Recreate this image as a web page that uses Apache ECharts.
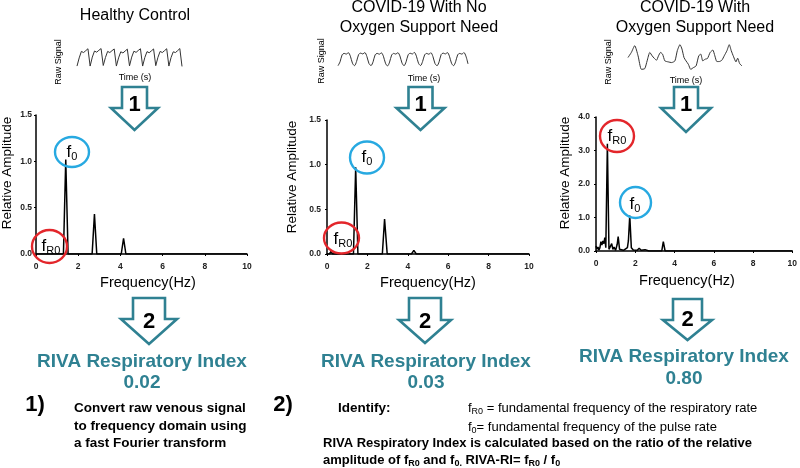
<!DOCTYPE html>
<html><head><meta charset="utf-8">
<script src="https://cdn.jsdelivr.net/npm/echarts@6/dist/echarts.min.js"></script>
<style>html,body{margin:0;padding:0;background:#fff}#c{width:800px;height:468px}</style>
</head><body><div id="c"></div>
<script>
// ---------- DATA ----------
const panelTitles = [['Healthy Control'], ['COVID-19 With No', 'Oxygen Support Need'], ['COVID-19 With', 'Oxygen Support Need']];
const rivaValues = ['0.02', '0.03', '0.80'];
const freqTicks = [0, 2, 4, 6, 8, 10];

// Spectrum: Healthy Control
const hcFreq = [0, 0.15, 0.2, 0.25, 1.3, 1.41, 1.52, 2.66, 2.77, 2.88, 4.04, 4.15, 4.26, 5.44, 5.49, 5.54, 10];
const hcAmp  = [0, 0, 0.02, 0, 0, 1.02, 0, 0, 0.43, 0, 0, 0.17, 0, 0, 0.01, 0, 0];
// Spectrum: COVID-19 no oxygen
const nfFreq = [0, 0.12, 0.2, 0.28, 1.31, 1.42, 1.53, 2.74, 2.85, 2.98, 4.18, 4.3, 4.42, 10];
const nfAmp  = [0, 0, 0.03, 0, 0, 0.97, 0, 0, 0.39, 0, 0, 0.04, 0, 0];
// Spectrum: COVID-19 with oxygen
const osFreq = [0, 0.05, 0.1, 0.15, 0.2, 0.25, 0.3, 0.35, 0.4, 0.45, 0.5, 0.58, 0.66, 0.72, 0.8, 0.86, 0.92, 1.0, 1.08, 1.13, 1.2, 1.3, 1.4, 1.5, 1.6, 1.65, 1.72, 1.8, 1.9, 2.0, 2.1, 2.2, 2.3, 2.5, 2.7, 3.35, 3.43, 3.52, 10];
const osAmp  = [0.15, 0.05, 0.12, 0.03, 0.1, 0.28, 0.18, 0.3, 0.22, 0.4, 0.1, 3.2, 0.05, 0.0, 0.22, 0.05, 0.12, 0.02, 0.2, 0.43, 0.05, 0.08, 0.02, 0.06, 0.1, 0.3, 1.06, 0.1, 0.03, 0.05, 0.02, 0.08, 0.02, 0.04, 0, 0, 0.28, 0, 0];

// Raw signals (sample index → relative level)
const rawHC = [0.05,0.48,0.82,0.76,0.86,0.96, 0.05,0.52,0.84,0.78,0.88,0.97, 0.08,0.5,0.82,0.76,0.86,0.95, 0.05,0.48,0.8,0.74,0.84,0.94, 0.06,0.52,0.83,0.77,0.87,0.96, 0.05,0.5,0.81,0.75,0.85,0.95, 0.07,0.51,0.82,0.76,0.86,0.96, 0.05,0.5,0.8,0.76,0.86,0.97, 0.03];
const rawNF = [0.02,0.3,0.8,0.9,0.85,0.95,0.7,0.2, 0.02,0.32,0.82,0.92,0.86,0.96,0.68,0.18, 0.03,0.3,0.8,0.9,0.84,0.94,0.7,0.2, 0.0,0.28,0.78,0.9,0.85,0.95,0.72,0.22, 0.02,0.3,0.8,0.91,0.86,0.97,0.7,0.2, 0.03,0.32,0.8,0.9,0.84,0.95,0.68,0.18, 0.02,0.3,0.82,0.92,0.86,0.96,0.7,0.2, 0.02,0.3,0.8,0.9,0.85,0.96,0.7,0.15];
const rawOSx = [25,35,45,55,65,75,82,90,97,103,110,116,122,128,135,145,155,165,172,180,186,192,198,205,212,220,228,236,242,248,255,262,270,278,284,290,297,305,312,320,327,333,340,347,352,358,365];
const rawOSy = [0.40,0.55,0.75,0.45,0.05,0.07,0.30,0.55,0.45,0.38,0.32,0.45,0.55,0.50,0.30,0.27,0.25,0.30,0.60,0.78,0.65,0.40,0.30,0.20,0.05,0.10,0.15,0.45,0.50,0.30,0.35,0.37,0.55,0.62,0.45,0.28,0.28,0.32,0.45,0.60,0.78,0.60,0.42,0.27,0.38,0.22,0.15];

// ---------- STYLE ----------
const FONT = 'Liberation Sans, Arial, Helvetica, sans-serif';
const TEAL = '#2f8192';
const RED = '#e3262b';
const BLUE = '#27a9e1';

const chart = echarts.init(document.getElementById('c'), null, {renderer: 'canvas'});

const specGrids = [
  {left: 36, top: 115, width: 211, height: 139},
  {left: 327, top: 120, width: 202, height: 134},
  {left: 596, top: 117, width: 200, height: 134}
];
const rawGrids = [
  {left: 77, top: 48, width: 105, height: 19},
  {left: 338, top: 52, width: 130, height: 14},
  {left: 628, top: 44, width: 114, height: 27}
];
const yMax = [1.5, 1.5, 4.0];
const yInt = [0.5, 0.5, 1.0];

const grids = [...specGrids, ...rawGrids];
const xAxes = [], yAxes = [], series = [];
const axisText = {fontSize: 8.5, fontWeight: 'bold', color: '#222', fontFamily: FONT};
for (let i = 0; i < 3; i++) {
  xAxes.push({type: 'value', gridIndex: i, min: freqTicks[0], max: freqTicks[freqTicks.length - 1], interval: 2,
    axisLine: {show: true, lineStyle: {color: '#000', width: 1.5}}, axisTick: {show: true, length: 2, lineStyle: {color: '#000'}},
    splitLine: {show: false}, axisLabel: Object.assign({margin: 8}, axisText)});
  yAxes.push({type: 'value', gridIndex: i, min: 0, max: yMax[i], interval: yInt[i],
    axisLine: {show: true, lineStyle: {color: '#000', width: 1.5}}, axisTick: {show: true, length: 2, lineStyle: {color: '#000'}},
    splitLine: {show: false}, axisLabel: Object.assign({margin: i === 0 ? 4 : 6, formatter: v => v.toFixed(1)}, axisText)});
}
const rawX = [[0, rawHC.length - 1], [0, rawNF.length - 1], [25, 365]];
const rawY = [[0, 1], [0, 1], [0, 0.8]];
for (let i = 0; i < 3; i++) {
  xAxes.push({type: 'value', gridIndex: 3 + i, min: rawX[i][0], max: rawX[i][1], show: false});
  yAxes.push({type: 'value', gridIndex: 3 + i, min: rawY[i][0], max: rawY[i][1], show: false});
}
const specData = [
  hcFreq.map((f, i) => [f, hcAmp[i]]),
  nfFreq.map((f, i) => [f, nfAmp[i]]),
  osFreq.map((f, i) => [f, osAmp[i]])
];
specData.forEach((d, i) => series.push({type: 'line', xAxisIndex: i, yAxisIndex: i, data: d, showSymbol: false,
  lineStyle: {color: '#000', width: 1.5}, animation: false}));
const rawData = [
  rawHC.map((v, i) => [i, v]),
  rawNF.map((v, i) => [i, v]),
  rawOSx.map((x, i) => [x, rawOSy[i]])
];
rawData.forEach((d, i) => series.push({type: 'line', xAxisIndex: 3 + i, yAxisIndex: 3 + i, data: d, showSymbol: false,
  smooth: i === 1 ? 0.3 : (i === 2 ? 0.2 : false),
  lineStyle: {color: '#333', width: 1}, animation: false}));

// ---------- GRAPHIC ----------
const g = [];
function txt(x, y, text, opt) {
  g.push({type: 'text', x: x, y: y, rotation: (opt && opt.rot) || 0, style: Object.assign({
    text: text, fill: '#000', font: '16px ' + FONT, fontFamily: FONT, textAlign: 'center', textVerticalAlign: 'middle'
  }, opt && opt.style), z: 10});
}
function arrow(cx, y0, yb, yt, sw, hw, label, ly) {
  g.push({type: 'polygon', shape: {points: [[cx - sw, y0], [cx + sw, y0], [cx + sw, yb], [cx + hw, yb], [cx, yt], [cx - hw, yb], [cx - sw, yb]]},
    style: {fill: '#fff', stroke: TEAL, lineWidth: 2.6, lineJoin: 'miter'}, z: 5});
  txt(cx, ly, label, {style: {fontSize: 22, fontWeight: 'bold', fontFamily: FONT}});
}
function ring(cx, cy, rx, ry, color) {
  g.push({type: 'ellipse', shape: {cx: cx, cy: cy, rx: rx, ry: ry}, style: {fill: 'none', stroke: color, lineWidth: 2.4}, z: 6});
}
function fsub(x, y, sub) {
  g.push({type: 'text', x: x, y: y, z: 11, style: {text: '{a|f}{b|' + sub + '}', textAlign: 'center', textVerticalAlign: 'middle',
    rich: {a: {fontSize: 17, fontFamily: FONT, lineHeight: 20, fill: '#000'}, b: {fontSize: 11, fontFamily: FONT, lineHeight: 12, verticalAlign: 'bottom', fill: '#000'}}}});
}

// titles
txt(135, 16, panelTitles[0][0], {style: {fontSize: 16}});
txt(419, 8, panelTitles[1][0], {style: {fontSize: 16}});
txt(419, 28, panelTitles[1][1], {style: {fontSize: 16}});
txt(695, 8, panelTitles[2][0], {style: {fontSize: 16}});
txt(695, 28, panelTitles[2][1], {style: {fontSize: 16}});

// raw signal labels
[[59, 62, 135, 78], [322, 61, 424, 79], [609, 62, 686, 81]].forEach(p => {
  txt(p[0], p[1], 'Raw Signal', {rot: Math.PI / 2, style: {fontSize: 9}});
  txt(p[2], p[3], 'Time (s)', {style: {fontSize: 9}});
});

// axis names
[[7, 173, 148, 283], [292, 177, 428, 283], [565, 173, 687, 281]].forEach(p => {
  txt(p[0], p[1], 'Relative Amplitude', {rot: Math.PI / 2, style: {fontSize: 13.5}});
  txt(p[2], p[3], 'Frequency(Hz)', {style: {fontSize: 14.5}});
});

// arrows
arrow(134.5, 87, 108, 130, 12.5, 23.5, '1', 105);
arrow(420.5, 87, 108, 130, 12, 24, '1', 105);
arrow(686, 87, 108, 132, 12, 25, '1', 105);
arrow(149, 298, 319, 344, 16, 28, '2', 322);
arrow(425, 298, 320, 343, 16, 26, '2', 322);
arrow(687.5, 299, 320, 340, 14.5, 24.5, '2', 320);

// circles
ring(49.5, 246.5, 17.5, 16.5, RED); fsub(51, 246, 'R0');
ring(72, 152, 17, 15, BLUE); fsub(72, 152, '0');
ring(341.5, 238, 17.5, 15.5, RED); fsub(343, 239, 'R0');
ring(367, 157.5, 17, 16, BLUE); fsub(367, 157, '0');
ring(617, 136, 17, 16, RED); fsub(617, 136, 'R0');
ring(635.5, 202.5, 15.5, 15.5, BLUE); fsub(635, 204, '0');

// RIVA index
[[142, 362, 383], [426, 362, 383], [684, 357, 379]].forEach((p, i) => {
  txt(p[0], p[1], 'RIVA Respiratory Index', {style: {fontSize: 19, fontWeight: 'bold', fill: TEAL}});
  txt(p[0], p[2], rivaValues[i], {style: {fontSize: 19, fontWeight: 'bold', fill: TEAL}});
});

// explanation
txt(35, 405, '1)', {style: {fontSize: 22, fontWeight: 'bold'}});
txt(283, 405, '2)', {style: {fontSize: 22, fontWeight: 'bold'}});
const boldL = {fontSize: 13.5, fontWeight: 'bold', textAlign: 'left'};
txt(74, 408, 'Convert raw venous signal', {style: boldL});
txt(74, 426, 'to frequency domain using', {style: boldL});
txt(74, 443, 'a fast Fourier transform', {style: boldL});
txt(338, 408, 'Identify:', {style: boldL});
function richLine(x, y, text, bold) {
  const w = bold ? 'bold' : 'normal';
  g.push({type: 'text', x: x, y: y, z: 11, style: {text: text, textAlign: 'left', textVerticalAlign: 'middle',
    rich: {t: {fontSize: 13, fontWeight: w, fontFamily: FONT, lineHeight: 16, fill: '#000'},
           s: {fontSize: 9, fontWeight: w, fontFamily: FONT, lineHeight: 10, verticalAlign: 'bottom', fill: '#000'}}}});
}
richLine(468, 408, '{t|f}{s|R0}{t| = fundamental frequency of the respiratory rate}', false);
richLine(468, 427, '{t|f}{s|0}{t|= fundamental frequency of the pulse rate}', false);
richLine(323, 443, '{t|RIVA Respiratory Index is calculated based on the ratio of the relative}', true);
richLine(323, 460, '{t|amplitude of f}{s|R0}{t| and f}{s|0.}{t| RIVA-RI= f}{s|R0}{t| / f}{s|0}', true);

chart.setOption({
  animation: false,
  backgroundColor: '#fff',
  grid: grids,
  xAxis: xAxes,
  yAxis: yAxes,
  series: series,
  graphic: g
});
</script></body></html>
